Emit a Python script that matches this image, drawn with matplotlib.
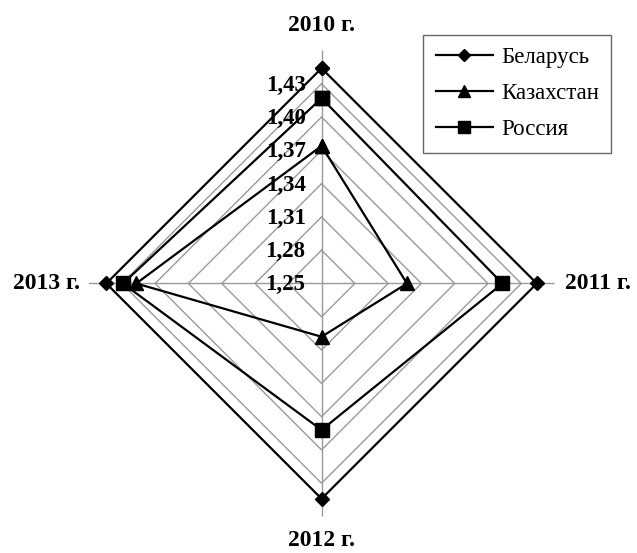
import numpy as np
import matplotlib
matplotlib.use('Agg')
import matplotlib.pyplot as plt

plt.rcParams['font.family'] = ['Liberation Serif', 'DejaVu Serif']

years = ['2010 г.', '2011 г.', '2012 г.', '2013 г.']
countries = ['Беларусь', 'Казахстан', 'Россия']
belarus = [1.444, 1.444, 1.444, 1.444]
kazakhstan = [1.374, 1.327, 1.298, 1.417]
russia = [1.417, 1.413, 1.382, 1.429]
levels = [1.25, 1.28, 1.31, 1.34, 1.37, 1.40, 1.43]
r_min, r_max = 1.25, 1.46

fig = plt.figure(figsize=(6.37, 5.53), dpi=100)
ax = fig.add_axes([0.139, 0.066, 0.7316, 0.8427], projection='polar')
ax.set_theta_zero_location('N')
ax.set_theta_direction(-1)
ax.set_ylim(r_min, r_max)
ax.grid(False)
ax.spines['polar'].set_visible(False)
ax.set_xticks([])
ax.set_yticks([])

theta = np.linspace(0, 2 * np.pi, len(years), endpoint=False)
theta_closed = np.append(theta, theta[0])
grid_col = '#9a9a9a'

# spokes
for t in theta:
    ax.plot([t, t], [r_min, r_max], color=grid_col, lw=1, zorder=1)
# polygon grid
for lv in levels[1:]:
    ax.plot(theta_closed, [lv] * (len(theta) + 1), color=grid_col, lw=1, zorder=1)

series = [(belarus, 'D', 7.5), (kazakhstan, '^', 10), (russia, 's', 9.5)]
lines = []
for (vals, mk, ms), name in zip(series, countries):
    ln, = ax.plot(theta_closed, vals + vals[:1], color='black', lw=1.6,
                  marker=mk, markersize=ms, label=name, zorder=3, clip_on=False)
    lines.append(ln)

# radial tick labels
for lv in levels:
    ax.annotate(f'{lv:.2f}'.replace('.', ','), xy=(0, lv), xytext=(-11.5, -1),
                textcoords='offset points', ha='right', va='center',
                fontsize=16.5, fontweight='bold', zorder=2)

# category labels
offsets = [(0, 18, 'center', 'center'), (7.5, 0, 'left', 'center'),
           (0, -17, 'center', 'center'), (-6, 0, 'right', 'center')]
for t, lab, (dx, dy, ha, va) in zip(theta, years, offsets):
    ax.annotate(lab, xy=(t, r_max), xytext=(dx, dy), textcoords='offset points',
                ha=ha, va=va, fontsize=17, fontweight='bold', annotation_clip=False)

leg = fig.legend(handles=lines, loc='upper left', bbox_to_anchor=(0.664, 0.937),
                 fontsize=16.5, frameon=True, fancybox=False, handlelength=2.5,
                 labelspacing=0.65, borderpad=0.55, handletextpad=0.35,
                 borderaxespad=0)
leg.get_frame().set_edgecolor('#404040')
leg.get_frame().set_linewidth(1)
for h, s in zip(leg.legend_handles, [6, 8, 8]):
    h.set_markersize(s)

fig.savefig('out.png', dpi=100)
